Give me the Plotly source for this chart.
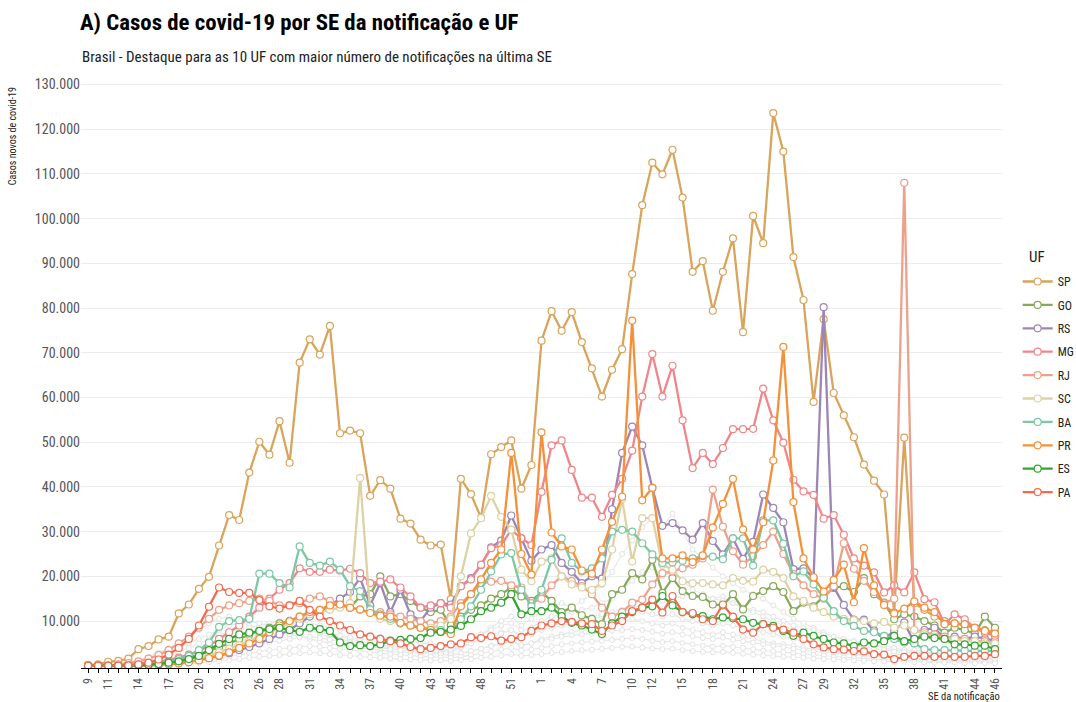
import plotly.graph_objects as go

# Epidemiological weeks (SE): 2020 w9..w53, 2021 w1..w46
ANO = [2020] * 45 + [2021] * 46
SE = list(range(9, 54)) + list(range(1, 47))
TICKS_2020 = [9, 11, 14, 17, 20, 23, 26, 28, 31, 34, 37, 40, 43, 45, 48, 51]
TICKS_2021 = [1, 4, 7, 10, 12, 15, 18, 21, 24, 27, 29, 32, 35, 38, 41, 44, 46]

UFS = ["SP", "GO", "RS", "MG", "RJ", "SC", "BA", "PR", "ES", "PA"]
COLORS = {"SP": "#D9A45B", "GO": "#86A95B", "RS": "#9D86B6", "MG": "#F0868A",
          "RJ": "#EDA18A", "SC": "#DCD2A4", "BA": "#7CC8A5", "PR": "#F5903A",
          "ES": "#34A532", "PA": "#F26B4E"}

# weekly new cases, in thousands
SP = [0.2, 0.3, 0.9, 1.1, 1.6, 3.7, 4.4, 5.9, 6.5, 11.7,
      13.7, 17.2, 19.9, 26.9, 33.7, 32.6, 43.2, 50.1, 47.2, 54.7,
      45.4, 67.8, 73.0, 69.6, 76.0, 52.0, 52.6, 52.0, 38.0, 41.5,
      39.6, 32.9, 31.8, 28.2, 26.9, 27.1, 14.9, 41.8, 38.4, 33.1,
      47.3, 48.9, 50.4, 39.6, 44.9, 72.7, 79.3, 74.9, 79.1, 72.4,
      66.5, 60.2, 66.2, 70.8, 87.6, 103.0, 112.5, 109.9, 115.4, 104.7,
      88.1, 90.5, 79.4, 88.1, 95.6, 74.6, 100.6, 94.5, 123.6, 115.0,
      91.4, 81.8, 59.0, 77.5, 61.0, 56.0, 51.1, 45.0, 41.4, 38.3,
      11.9, 51.0, 14.0, 12.5, 11.0, 10.0, 9.5, 9.0, 8.5, 8.0, 7.5]
GO = [0, 0, 0, 0, 0.1, 0.2, 0.4, 0.6, 0.9, 1.3,
      1.8, 2.5, 3.3, 4.2, 5.0, 6.0, 7.0, 7.8, 8.5, 9.5,
      10.0, 11.0, 12.0, 12.5, 13.5, 14.0, 13.0, 15.5, 16.0, 20.0,
      15.5, 16.0, 14.5, 13.0, 12.0, 12.5, 9.0, 11.0, 12.5, 13.5,
      15.0, 16.0, 17.5, 15.5, 14.5, 16.5, 14.5, 12.0, 13.0, 11.3,
      10.5, 9.3, 16.0, 17.0, 20.7, 19.3, 23.7, 16.3, 19.6, 16.7,
      15.6, 15.4, 13.7, 13.5, 16.0, 12.6, 15.6, 16.7, 17.8, 16.5,
      12.2, 14.1, 13.3, 15.5, 17.4, 17.8, 16.5, 19.6, 16.0, 14.1,
      10.4, 11.5, 11.0, 10.0, 9.0, 7.4, 8.5, 8.0, 7.2, 11.0, 8.5]
RS = [0, 0, 0, 0, 0, 0.1, 0.2, 0.3, 0.5, 0.7,
      1.0, 1.3, 1.7, 2.2, 2.8, 3.5, 4.2, 5.0, 6.0, 7.0,
      8.0, 9.5, 11.0, 12.0, 13.5, 15.0, 16.5, 19.6, 13.5, 18.5,
      12.0, 17.0, 11.5, 10.0, 13.0, 14.0, 13.7, 17.8, 19.6, 22.5,
      26.5, 28.0, 33.6, 28.5, 23.5, 26.0, 27.0, 23.0, 21.0, 18.5,
      20.0, 19.5, 35.0, 47.6, 53.5, 49.3, 39.8, 31.3, 31.9, 30.3,
      28.2, 31.9, 27.9, 24.9, 28.5, 23.9, 27.7, 38.3, 35.3, 32.1,
      21.6, 21.8, 19.6, 80.2, 17.6, 13.6, 10.3, 10.3, 7.9, 5.9,
      7.9, 9.7, 5.1, 8.0, 8.5, 6.0, 6.5, 6.0, 6.5, 6.0, 5.6]
MG = [0, 0, 0, 0.1, 0.2, 0.4, 0.6, 0.9, 1.3, 1.8,
      2.5, 3.3, 4.5, 6.0, 7.5, 9.0, 11.0, 13.0, 15.0, 17.0,
      18.5, 21.8, 21.0, 21.0, 21.5, 21.3, 21.7, 20.7, 18.5, 18.8,
      19.3, 17.5, 15.5, 13.0, 13.5, 14.0, 13.0, 17.8, 19.3, 22.6,
      26.3, 27.0, 30.4, 28.5, 27.0, 38.9, 49.3, 50.4, 43.8, 37.6,
      37.6, 33.3, 38.2, 41.8, 48.1, 60.2, 69.7, 60.2, 67.1, 54.9,
      44.2, 47.6, 45.1, 48.7, 52.9, 52.9, 53.0, 62.0, 54.9, 49.9,
      41.6, 39.0, 38.2, 32.9, 33.7, 29.3, 24.0, 22.4, 20.9, 16.4,
      18.0, 16.4, 20.9, 14.9, 14.2, 9.3, 11.5, 10.4, 8.5, 7.4, 6.7]
RJ = [0, 0, 0.1, 0.3, 0.6, 1.0, 1.6, 2.4, 3.5, 5.0,
      6.5, 8.5, 10.5, 12.5, 13.5, 14.0, 14.5, 15.0, 14.5, 13.5,
      13.5, 14.0, 15.0, 15.5, 14.5, 13.5, 13.0, 12.5, 12.0, 12.0,
      11.5, 11.0, 10.5, 10.0, 9.5, 10.0, 11.0, 14.0, 16.0, 18.5,
      18.8, 19.0, 18.0, 17.5, 14.0, 15.0, 18.0, 20.0, 19.0, 17.8,
      16.0, 13.0, 11.0, 12.0, 14.1, 14.8, 18.2, 20.7, 21.1, 21.8,
      22.6, 24.0, 39.4, 31.1, 25.6, 22.6, 24.5, 27.0, 30.0, 25.0,
      20.5, 18.0, 16.0, 15.0, 17.8, 27.4, 21.7, 19.0, 16.5, 14.0,
      15.0, 108.0, 8.0, 7.5, 7.0, 6.5, 6.0, 6.0, 5.5, 5.5, 5.0]
SC = [0, 0, 0, 0, 0, 0.1, 0.2, 0.4, 0.6, 0.9,
      1.3, 1.8, 2.4, 3.0, 3.8, 4.6, 5.5, 6.5, 7.5, 8.5,
      9.5, 10.5, 11.5, 12.0, 12.5, 13.0, 14.0, 42.0, 12.0, 10.5,
      10.0, 9.5, 9.0, 8.5, 8.5, 9.0, 10.5, 20.0, 29.6, 33.0,
      38.0, 33.3, 30.4, 21.5, 18.9, 23.3, 24.0, 20.0, 18.2, 17.5,
      17.0, 18.5, 26.0, 37.3, 23.3, 33.0, 33.0, 22.6, 21.5, 18.9,
      18.5, 18.5, 18.2, 18.0, 19.6, 19.0, 18.8, 21.5, 21.0, 19.6,
      15.5, 14.5, 13.0, 12.0, 11.0, 10.5, 10.2, 10.0, 9.5, 9.8,
      8.5, 9.0, 8.0, 7.0, 6.5, 6.0, 6.0, 5.5, 5.5, 5.0, 5.0]
BA = [0, 0, 0, 0, 0.1, 0.2, 0.4, 0.7, 1.0, 1.5,
      2.2, 3.5, 5.2, 8.7, 10.0, 10.2, 10.5, 20.6, 20.6, 18.5,
      17.5, 26.7, 23.0, 22.4, 23.3, 21.5, 17.8, 16.7, 12.6, 11.5,
      10.5, 9.5, 9.0, 8.5, 8.0, 8.0, 7.5, 10.4, 13.3, 17.0,
      21.1, 24.9, 25.2, 17.0, 13.3, 17.0, 23.7, 28.5, 23.0, 21.1,
      21.8, 24.0, 30.0, 30.4, 30.0, 27.4, 24.9, 23.0, 23.1, 23.5,
      24.0, 24.5, 24.4, 23.8, 28.5, 28.5, 22.4, 32.5, 32.5, 27.3,
      20.0, 21.1, 18.2, 15.2, 12.2, 10.0, 8.9, 7.8, 7.5, 6.7,
      6.0, 5.2, 5.0, 3.7, 3.5, 3.5, 3.4, 3.4, 3.3, 3.3, 3.3]
PR = [0, 0, 0, 0, 0, 0.1, 0.1, 0.2, 0.3, 0.5,
      0.8, 1.2, 1.7, 2.3, 3.0, 4.0, 5.0, 6.0, 7.5, 9.0,
      10.0, 11.0, 12.0, 12.5, 13.5, 13.7, 13.0, 12.6, 11.8, 11.2,
      11.0, 9.6, 9.0, 8.5, 8.0, 7.5, 7.1, 13.3, 16.0, 19.3,
      23.0, 26.0, 47.6, 25.0, 20.4, 52.2, 29.8, 26.7, 26.0, 21.3,
      20.6, 26.0, 32.2, 37.8, 77.2, 37.0, 39.8, 24.0, 24.0, 24.7,
      23.2, 24.7, 30.9, 36.2, 41.8, 30.5, 26.0, 32.1, 45.9, 71.3,
      36.6, 24.0, 19.8, 16.6, 19.2, 22.6, 14.2, 26.3, 18.0, 13.6,
      11.7, 12.8, 14.4, 13.0, 12.0, 9.3, 9.5, 9.3, 8.5, 7.8, 7.2]
ES = [0, 0, 0, 0, 0, 0.1, 0.2, 0.4, 0.7, 1.0,
      1.5, 2.2, 3.5, 4.9, 6.0, 7.0, 7.4, 7.8, 8.2, 8.5,
      8.0, 7.6, 8.5, 8.2, 7.8, 5.2, 4.4, 4.6, 4.4, 4.8,
      5.6, 5.8, 6.0, 6.2, 7.4, 7.6, 8.1, 8.9, 10.4, 12.2,
      13.0, 14.1, 16.0, 11.5, 12.2, 12.2, 13.0, 11.1, 9.6, 9.0,
      8.1, 7.1, 9.5, 11.0, 12.0, 13.0, 13.3, 15.6, 13.5, 12.0,
      11.5, 11.1, 10.4, 10.8, 10.6, 10.4, 9.6, 9.3, 8.9, 7.8,
      6.7, 7.4, 6.7, 6.0, 5.2, 5.0, 4.4, 5.2, 5.0, 5.5,
      6.7, 5.5, 6.0, 6.5, 6.2, 6.0, 4.8, 4.8, 4.5, 4.5, 3.7]
PA = [0, 0, 0, 0, 0.1, 0.3, 0.7, 1.4, 2.5, 4.0,
      6.0, 9.0, 13.2, 17.5, 16.5, 16.3, 16.3, 14.7, 13.3, 12.8,
      13.5, 14.5, 12.5, 11.0, 10.0, 9.0, 8.0, 7.0, 6.5, 6.0,
      5.5, 5.0, 4.2, 3.7, 4.0, 4.4, 4.8, 5.0, 6.4, 6.2,
      6.6, 5.6, 6.0, 6.4, 7.8, 9.0, 9.5, 10.0, 9.8, 9.5,
      9.3, 7.8, 9.0, 10.0, 12.2, 13.0, 14.8, 11.9, 15.6, 12.0,
      11.8, 10.4, 10.0, 13.7, 11.0, 8.1, 7.4, 9.3, 8.5, 8.1,
      7.4, 6.0, 4.8, 4.1, 3.7, 3.6, 3.3, 3.2, 2.6, 2.5,
      1.5, 2.0, 2.2, 2.2, 2.0, 2.2, 2.0, 2.0, 2.2, 2.2, 2.6]

# other UFs (background, grey)
OUTRAS_1 = [0, 0, 0.1, 0.3, 0.6, 1.2, 2.0, 3.0, 4.0, 5.0,
            6.5, 8.0, 9.5, 10.5, 11.0, 10.0, 9.0, 8.5, 8.0, 7.5,
            7.0, 7.5, 8.0, 7.0, 6.5, 6.0, 5.5, 5.0, 4.5, 4.5,
            4.0, 4.0, 3.5, 3.5, 3.0, 3.0, 3.5, 4.5, 5.5, 7.0,
            8.5, 10.0, 11.0, 9.0, 10.5, 12.0, 13.5, 14.0, 13.0, 14.5,
            16.0, 18.0, 21.0, 25.0, 28.0, 31.0, 33.0, 31.0, 34.0, 30.0,
            26.0, 24.0, 22.0, 20.0, 18.5, 17.0, 16.0, 15.0, 13.5, 12.0,
            10.5, 9.5, 8.5, 7.5, 6.5, 6.0, 5.5, 5.0, 4.5, 4.0,
            3.5, 3.5, 3.0, 3.0, 2.5, 2.5, 2.0, 2.0, 2.0, 1.5, 1.5]
OUTRAS_2 = [0, 0, 0, 0.1, 0.3, 0.6, 1.0, 1.5, 2.2, 3.0,
            4.0, 5.0, 6.0, 7.0, 7.5, 8.0, 8.5, 9.0, 9.5, 10.0,
            10.5, 10.0, 9.5, 9.0, 8.5, 8.0, 7.5, 7.0, 7.0, 6.5,
            6.0, 6.0, 5.5, 5.0, 5.0, 4.5, 4.0, 5.0, 6.0, 7.0,
            8.0, 9.0, 9.5, 8.0, 8.5, 10.0, 11.0, 11.5, 12.0, 12.5,
            13.0, 14.0, 15.0, 17.0, 19.0, 21.0, 22.0, 20.0, 21.0, 19.0,
            17.0, 16.0, 15.0, 15.5, 14.0, 13.0, 12.5, 12.0, 11.0, 10.0,
            9.0, 8.5, 8.0, 7.0, 6.5, 6.0, 5.5, 5.0, 4.5, 4.5,
            4.0, 3.5, 3.5, 3.0, 3.0, 2.5, 2.5, 2.5, 2.0, 2.0, 2.0]
OUTRAS_3 = [0, 0, 0, 0, 0.1, 0.2, 0.4, 0.7, 1.0, 1.4,
            1.8, 2.3, 2.8, 3.5, 4.2, 5.0, 5.8, 6.5, 7.0, 7.5,
            8.0, 8.5, 8.0, 7.5, 7.0, 6.5, 6.0, 5.5, 5.0, 4.8,
            4.5, 4.2, 4.0, 3.8, 3.6, 3.5, 3.0, 4.0, 5.0, 6.0,
            7.0, 7.5, 8.0, 6.5, 7.0, 8.0, 8.5, 9.0, 9.5, 10.0,
            10.5, 11.0, 11.5, 12.0, 12.5, 12.0, 11.5, 11.0, 11.5, 10.5,
            10.0, 9.5, 9.0, 9.5, 9.0, 8.5, 8.0, 7.5, 7.0, 6.5,
            6.0, 5.5, 5.0, 4.5, 4.0, 3.8, 3.5, 3.2, 3.0, 2.8,
            2.5, 2.5, 2.2, 2.0, 2.0, 1.8, 1.8, 1.6, 1.5, 1.5, 1.4]
OUTRAS_4 = [0, 0, 0, 0.2, 0.5, 1.0, 1.6, 2.4, 3.2, 4.0,
            5.0, 6.0, 7.0, 8.0, 9.0, 9.5, 10.0, 9.5, 9.0, 8.0,
            7.0, 6.5, 6.0, 5.5, 5.0, 4.5, 4.2, 4.0, 3.8, 3.5,
            3.2, 3.0, 3.0, 2.8, 2.8, 2.6, 2.4, 2.8, 3.2, 3.8,
            4.5, 5.0, 5.5, 4.5, 5.0, 6.0, 6.5, 7.0, 7.5, 8.0,
            8.5, 9.0, 9.5, 10.0, 10.5, 10.0, 9.5, 9.0, 9.5, 8.5,
            8.0, 7.5, 7.0, 7.5, 7.0, 6.5, 6.0, 5.5, 5.0, 4.8,
            4.5, 4.0, 3.8, 3.5, 3.2, 3.0, 2.8, 2.5, 2.3, 2.0,
            1.8, 1.8, 1.6, 1.5, 1.4, 1.3, 1.2, 1.2, 1.1, 1.0, 1.0]
OUTRAS_5 = [0, 0, 0, 0, 0, 0.1, 0.2, 0.4, 0.6, 0.9,
            1.2, 1.6, 2.0, 2.5, 3.0, 3.6, 4.2, 4.8, 5.2, 5.6,
            6.0, 6.3, 6.5, 6.2, 5.8, 5.5, 5.0, 4.6, 4.2, 4.0,
            3.7, 3.5, 3.2, 3.0, 2.8, 2.6, 2.4, 2.8, 3.3, 3.8,
            4.4, 5.0, 5.5, 4.6, 5.0, 5.6, 6.0, 6.5, 6.8, 7.0,
            7.2, 7.5, 7.8, 8.0, 8.2, 8.0, 7.6, 7.2, 7.5, 7.0,
            6.6, 6.2, 6.0, 6.3, 5.8, 5.5, 5.2, 4.8, 4.5, 4.2,
            3.8, 3.5, 3.2, 3.0, 2.8, 2.6, 2.4, 2.2, 2.0, 1.9,
            1.8, 1.7, 1.6, 1.5, 1.4, 1.3, 1.2, 1.2, 1.1, 1.0, 1.0]
OUTRAS_6 = [0, 0, 0, 0, 0, 0, 0.1, 0.2, 0.3, 0.5,
            0.7, 1.0, 1.3, 1.6, 2.0, 2.4, 2.8, 3.2, 3.5, 3.8,
            4.0, 4.2, 4.4, 4.2, 4.0, 3.8, 3.5, 3.3, 3.0, 2.8,
            2.6, 2.4, 2.2, 2.1, 2.0, 1.9, 1.8, 2.0, 2.4, 2.8,
            3.2, 3.6, 4.0, 3.4, 3.6, 4.0, 4.4, 4.8, 5.0, 5.2,
            5.4, 5.6, 5.8, 6.0, 6.2, 6.0, 5.6, 5.3, 5.5, 5.1,
            4.8, 4.5, 4.3, 4.5, 4.2, 4.0, 3.7, 3.4, 3.2, 3.0,
            2.8, 2.6, 2.4, 2.2, 2.0, 1.9, 1.8, 1.6, 1.5, 1.4,
            1.3, 1.2, 1.2, 1.1, 1.0, 1.0, 0.9, 0.9, 0.8, 0.8, 0.8]
OUTRAS_7 = [0, 0, 0, 0, 0, 0, 0, 0.1, 0.2, 0.3,
            0.4, 0.6, 0.8, 1.0, 1.2, 1.5, 1.8, 2.0, 2.2, 2.4,
            2.6, 2.8, 3.0, 2.8, 2.6, 2.4, 2.2, 2.0, 1.9, 1.8,
            1.6, 1.5, 1.4, 1.3, 1.2, 1.2, 1.1, 1.3, 1.5, 1.8,
            2.0, 2.3, 2.6, 2.2, 2.4, 2.6, 2.9, 3.1, 3.3, 3.5,
            3.6, 3.8, 4.0, 4.2, 4.3, 4.1, 3.9, 3.7, 3.8, 3.5,
            3.3, 3.1, 3.0, 3.1, 2.9, 2.7, 2.5, 2.3, 2.2, 2.0,
            1.9, 1.8, 1.6, 1.5, 1.4, 1.3, 1.2, 1.1, 1.0, 1.0,
            0.9, 0.9, 0.8, 0.8, 0.7, 0.7, 0.7, 0.6, 0.6, 0.6, 0.6]
OUTRAS_8 = [0, 0, 0, 0, 0.1, 0.3, 0.6, 1.0, 1.5, 2.0,
            2.6, 3.2, 3.8, 4.5, 5.0, 5.5, 6.0, 6.5, 7.0, 7.2,
            7.5, 7.8, 8.0, 7.6, 7.2, 6.8, 6.4, 6.0, 5.6, 5.2,
            5.0, 4.8, 4.5, 4.2, 4.0, 3.8, 3.5, 4.2, 5.0, 5.8,
            6.5, 7.2, 8.0, 6.8, 7.4, 8.5, 9.0, 9.5, 10.0, 10.5,
            11.0, 11.5, 12.0, 12.5, 13.0, 13.5, 14.0, 14.5, 15.0, 15.5,
            16.0, 15.5, 15.0, 14.5, 14.0, 13.0, 12.0, 11.0, 10.0, 9.0,
            8.0, 7.2, 6.5, 6.0, 5.5, 5.0, 4.6, 4.2, 3.8, 3.5,
            3.2, 3.0, 2.8, 2.6, 2.4, 2.2, 2.0, 1.9, 1.8, 1.7, 1.6]

SERIES = {"SP": SP, "GO": GO, "RS": RS, "MG": MG, "RJ": RJ,
          "SC": SC, "BA": BA, "PR": PR, "ES": ES, "PA": PA}
OUTRAS = [OUTRAS_1, OUTRAS_2, OUTRAS_3, OUTRAS_4,
          OUTRAS_5, OUTRAS_6, OUTRAS_7, OUTRAS_8]

FONT = "Liberation Sans Narrow, Roboto Condensed, Arial Narrow, Roboto, sans-serif"

x = list(range(len(SE)))
tick_pos, tick_txt = [], []
for k, (a, s) in enumerate(zip(ANO, SE)):
    if (a == 2020 and s in TICKS_2020) or (a == 2021 and s in TICKS_2021):
        tick_pos.append(k)
        tick_txt.append(str(s))

fig = go.Figure()
for serie in OUTRAS:
    fig.add_trace(go.Scatter(
        x=x, y=[v * 1000 for v in serie], mode="lines+markers",
        line=dict(color="#e9e9e9", width=1.2),
        marker=dict(size=5, color="white", line=dict(color="#e3e3e3", width=1)),
        showlegend=False, hoverinfo="skip"))

for uf in UFS:
    fig.add_trace(go.Scatter(
        x=x, y=[v * 1000 for v in SERIES[uf]], mode="lines+markers", name=uf,
        legendgroup=uf,
        line=dict(color=COLORS[uf], width=2.3),
        marker=dict(size=7, color="white", line=dict(color=COLORS[uf], width=1.2))))

fig.update_layout(
    width=1076, height=702,
    paper_bgcolor="white", plot_bgcolor="white",
    separators=",.",
    font=dict(family=FONT, color="#4d4d4d"),
    margin=dict(l=81, r=74, t=80, b=34, autoexpand=False),
    title=dict(text="<b>A) Casos de covid-19 por SE da notificação e UF</b>",
               x=80 / 1076, xanchor="left", y=1 - 22 / 702, yanchor="middle",
               font=dict(size=22.8, color="black", family=FONT)),
    legend=dict(x=1.017, xanchor="left", y=0.682, yanchor="top",
                font=dict(size=12, color="#222"), tracegroupgap=4.4,
                bgcolor="rgba(0,0,0,0)"),
    xaxis=dict(range=[-0.7, 90.7], tickmode="array", tickvals=tick_pos, ticktext=tick_txt,
               tickangle=-90, tickfont=dict(size=12, color="#555"),
               showline=True, linecolor="black", linewidth=1.3,
               ticks="outside", ticklen=4, tickcolor="black", showgrid=False, zeroline=False,
               minor=dict(tickmode="linear", tick0=0, dtick=1, ticks="outside",
                          ticklen=4, tickcolor="black", showgrid=False)),
    yaxis=dict(range=[-500, 131000], tickmode="array",
               tickvals=[v * 1000 for v in range(10, 131, 10)], tickformat=",d",
               tickfont=dict(size=14, color="#555"), showgrid=True, gridcolor="#ececec",
               gridwidth=1, zeroline=False, showline=False, ticks=""),
)

fig.add_annotation(text="Brasil - Destaque para as 10 UF com maior número de notificações na última SE",
                   xref="paper", yref="paper", x=-0.001, y=1.039, xanchor="left", yanchor="middle",
                   showarrow=False, font=dict(size=15, color="#222"))
fig.add_annotation(text="Casos novos de covid-19", textangle=-90,
                   xref="paper", yref="paper", x=-0.075, y=0.991, xanchor="center", yanchor="top",
                   showarrow=False, font=dict(size=10, color="#222"))
fig.add_annotation(text="SE da notificação", xref="paper", yref="paper", x=1.0, y=-0.049,
                   xanchor="right", yanchor="middle", showarrow=False,
                   font=dict(size=10.5, color="#222"))
fig.add_annotation(text="UF", xref="paper", yref="paper", x=(1027 - 81) / 921, y=(668 - 257) / 588,
                   xanchor="left", yanchor="middle", showarrow=False,
                   font=dict(size=15, color="#222"))

fig.write_html("out.html", config={"displayModeBar": False},
               post_script="document.body.style.margin='0px';")
